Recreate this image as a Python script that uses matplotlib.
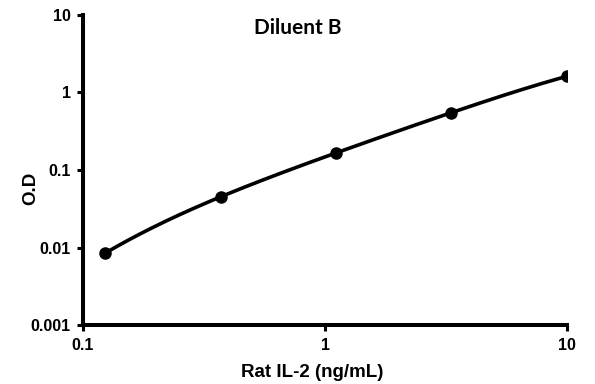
import numpy as np
import matplotlib.pyplot as plt
from matplotlib.ticker import FixedLocator, NullLocator, FixedFormatter

# standard curve values
conc = [0.123, 0.37, 1.11, 3.33, 10.0]
od = [0.0084, 0.045, 0.166, 0.55, 1.62]
x_ticks = [0.1, 1, 10]
x_tick_labels = ['0.1', '1', '10']
y_ticks = [0.001, 0.01, 0.1, 1, 10]
y_tick_labels = ['0.001', '0.01', '0.1', '1', '10']

fig = plt.figure(figsize=(5.95, 3.84), dpi=100)
fig.set_facecolor('w')
ax = fig.add_axes([0.1395, 0.1536, 0.8135, 0.8074])

# smooth line through the points (polynomial in log-log space)
lx = np.log10(conc)
ly = np.log10(od)
coef = np.polyfit(lx, ly, len(conc) - 1)
xs = np.linspace(lx[0], lx[-1], 200)
ax.plot(10 ** xs, 10 ** np.polyval(coef, xs), color='black', lw=2.6, zorder=2)
ax.plot(conc, od, 'o', color='black', ms=8, zorder=3)

ax.set_xscale('log')
ax.set_yscale('log')
ax.set_xlim(0.1, 10)
ax.set_ylim(0.001, 10)

ax.xaxis.set_major_locator(FixedLocator(x_ticks))
ax.xaxis.set_major_formatter(FixedFormatter(x_tick_labels))
ax.yaxis.set_major_locator(FixedLocator(y_ticks))
ax.yaxis.set_major_formatter(FixedFormatter(y_tick_labels))
ax.xaxis.set_minor_locator(NullLocator())
ax.yaxis.set_minor_locator(NullLocator())

for s in ['top', 'right']:
    ax.spines[s].set_visible(False)
for s in ['left', 'bottom']:
    ax.spines[s].set_linewidth(2.9)
    ax.spines[s].set_capstyle('projecting')

ax.tick_params(direction='out', length=4, width=2.2, pad=5,
               labelsize=11.5, color='black')
for lab in ax.get_xticklabels() + ax.get_yticklabels():
    lab.set_fontfamily('Liberation Sans')
    lab.set_fontweight('bold')

fig.text(0.525, 0.031, 'Rat IL-2 (ng/mL)', ha='center', va='center',
         fontsize=13.5, fontweight='bold', family='Liberation Sans')
fig.text(0.052, 0.51, 'O.D', ha='center', va='center', rotation=90,
         fontsize=13.5, fontweight='bold', family='Liberation Sans')
fig.text(0.5, 0.927, 'Diluent B', ha='center', va='center',
         fontsize=15, fontweight='bold', family='Lato')

fig.savefig('out.png', dpi=100)
